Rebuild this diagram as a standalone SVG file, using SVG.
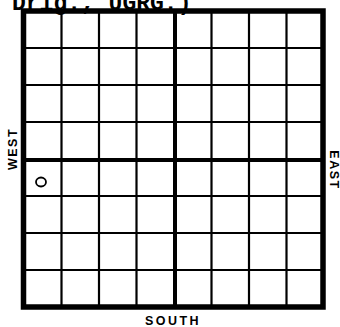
<svg xmlns="http://www.w3.org/2000/svg" width="340" height="327" viewBox="0 0 340 327">
<style>
.thin{stroke:#000;stroke-width:2.2;fill:none}
.mid{stroke:#000;stroke-width:4;fill:none}
.border{stroke:#000;stroke-width:5.5;fill:none}
.lbl{font-family:"Liberation Sans",Arial,sans-serif;font-weight:bold;font-size:12.5px;fill:#000;letter-spacing:1.5px}
</style>
<rect width="340" height="327" fill="#fff"/>
<text x="12" y="10" font-family="Liberation Mono,Courier New,monospace" font-weight="bold" font-size="23" fill="#000">Drig., UGRG.)</text>
<g id="grid">
<path class="thin" d="M61.5 11V307M99 11V307M136.5 11V307M211.5 11V307M249 11V307M286.5 11V307"/>
<path class="thin" d="M24 48H323M24 85H323M24 122H323M24 196H323M24 233H323M24 270H323"/>
<path class="mid" d="M175 11V307M24 160H323"/>
<rect class="border" x="23.5" y="11" width="299.5" height="296"/>
</g>
<g id="marker-o"><ellipse cx="41" cy="182" rx="5" ry="4.5" fill="none" stroke="#000" stroke-width="1.8"/></g>
<text class="lbl" transform="translate(17,149) rotate(-90)" text-anchor="middle">WEST</text>
<text class="lbl" transform="translate(330,170) rotate(90)" text-anchor="middle">EAST</text>
<text class="lbl" x="173" y="325" text-anchor="middle" font-size="12" style="letter-spacing:2.5px">SOUTH</text>
</svg>
